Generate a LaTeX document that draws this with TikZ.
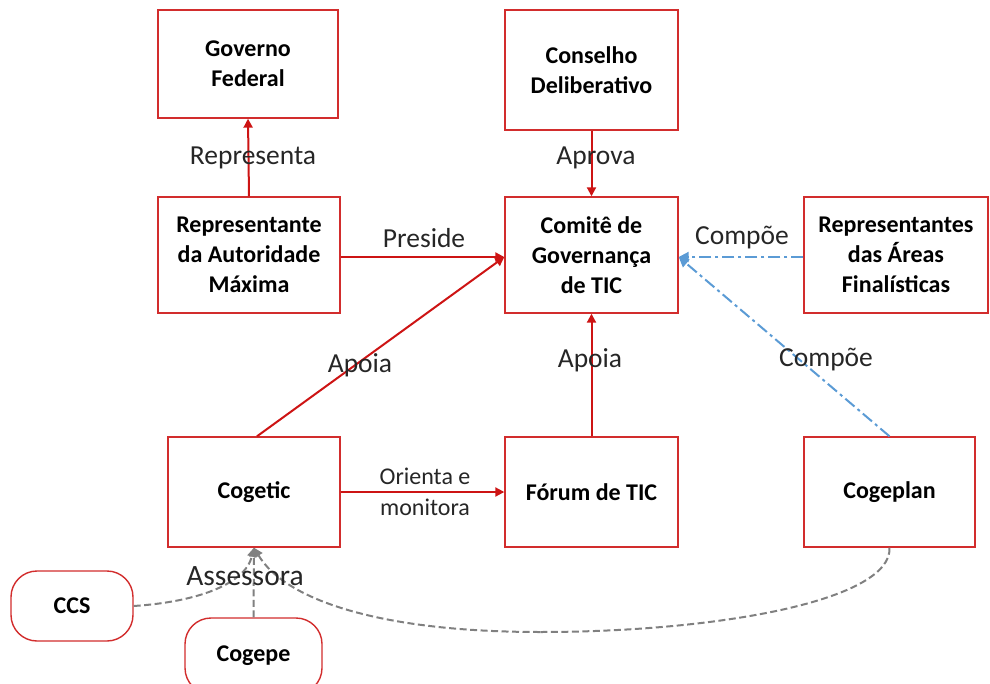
\documentclass[tikz,border=0pt]{standalone}
\usepackage{fontspec}
\setmainfont{Carlito}
\usetikzlibrary{arrows.meta}
\definecolor{boxred}{RGB}{210,45,45}
\definecolor{arrred}{RGB}{205,20,20}
\definecolor{lblue}{RGB}{91,155,213}
\definecolor{dgray}{RGB}{128,128,128}
\tikzset{
  box/.style={draw=boxred, line width=1.4pt, fill=white, align=center,
    font=\bfseries\fontsize{24}{30}\selectfont, inner sep=0pt},
  rbox/.style={box, rounded corners=26pt},
  redarr/.style={draw=arrred, line width=2pt, -{Triangle[length=9pt,width=9pt]}},
  bluearr/.style={draw=lblue, line width=2pt, dash pattern=on 12pt off 4pt on 3pt off 4pt, -{Triangle[length=10pt,width=10pt]}},
  grayarr/.style={draw=dgray, line width=2pt, dash pattern=on 7pt off 3.5pt, -{Triangle[length=9pt,width=9pt]}},
  lbl/.style={font=\fontsize{27.5}{30}\selectfont, text=black!85, inner sep=0pt},
}
\begin{document}
\begin{tikzpicture}[x=1pt,y=-1pt]
\useasboundingbox (0,0) rectangle (990,684);
\clip (0,0) rectangle (990,684);
\node[box, minimum width=180pt, minimum height=108pt] (gf) at (248,64) {Governo\\Federal};
\node[box, minimum width=173pt, minimum height=120pt] (cd) at (591.5,70) {Conselho\\Deliberativo};
\node[box, minimum width=182pt, minimum height=116pt] (ram) at (249,255) {Representante\\da Autoridade\\Máxima};
\node[box, minimum width=173pt, minimum height=116pt] (cg) at (591.5,255) {Comitê de\\Governança\\de TIC};
\node[box, minimum width=184pt, minimum height=116pt] (raf) at (896,255) {Representantes\\das Áreas\\Finalísticas};
\node[box, minimum width=172pt, minimum height=110pt] (cogetic) at (254,492) {Cogetic};
\node[box, minimum width=173pt, minimum height=110pt] (forum) at (591.5,492) {Fórum de TIC};
\node[box, minimum width=171pt, minimum height=110pt] (cogeplan) at (889.5,492) {Cogeplan};
\node[rbox, minimum width=122pt, minimum height=70pt] (ccs) at (72,606) {CCS};
\node[rbox, minimum width=137pt, minimum height=76pt] (cogepe) at (253.5,656) {Cogepe};

\draw[redarr] (ram.north) -- (gf.south);
\node[lbl] (lrep) at (253,158) {Representa};
\draw[redarr] (cd.south) -- (cg.north);
\node[lbl] (lapr) at (596,158) {Aprova};
\draw[redarr] (ram.east |- 0,257) -- (cg.west |- 0,257);
\node[lbl] (lpre) at (424,238) {Preside};
\draw[redarr] (cogetic.north -| 257,0) -- (cg.west |- 0,257);
\node[lbl] (lap1) at (360,365) {Apoia};
\draw[redarr] (forum.north) -- (cg.south);
\node[lbl] (lap2) at (590,360) {Apoia};
\draw[redarr] (cogetic.east) -- (forum.west);
\node[lbl, font=\fontsize{24}{31}\selectfont, align=center] (lori) at (425,492) {Orienta e\\monitora};
\draw[bluearr] (raf.west |- 0,257) -- (cg.east |- 0,257);
\node[lbl] (lcp1) at (742,238) {Compõe};
\draw[bluearr] (cogeplan.north) -- (cg.east |- 0,257);
\node[lbl] (lcp2) at (826,360) {Compõe};

\coordinate (mid) at (540,632);
\draw[grayarr] (ccs.east) .. controls (195,602) and (245,585) .. (cogetic.south);
\draw[grayarr] (cogepe.north) -- (cogetic.south);
\draw[grayarr, -] (cogeplan.south) .. controls (892,600) and (720,632) .. (mid);
\draw[grayarr] (mid) .. controls (380,632) and (285,600) .. (cogetic.south);
\node[lbl, font=\fontsize{29.5}{30}\selectfont] (lass) at (245,576) {Assessora};
\end{tikzpicture}
\end{document}
